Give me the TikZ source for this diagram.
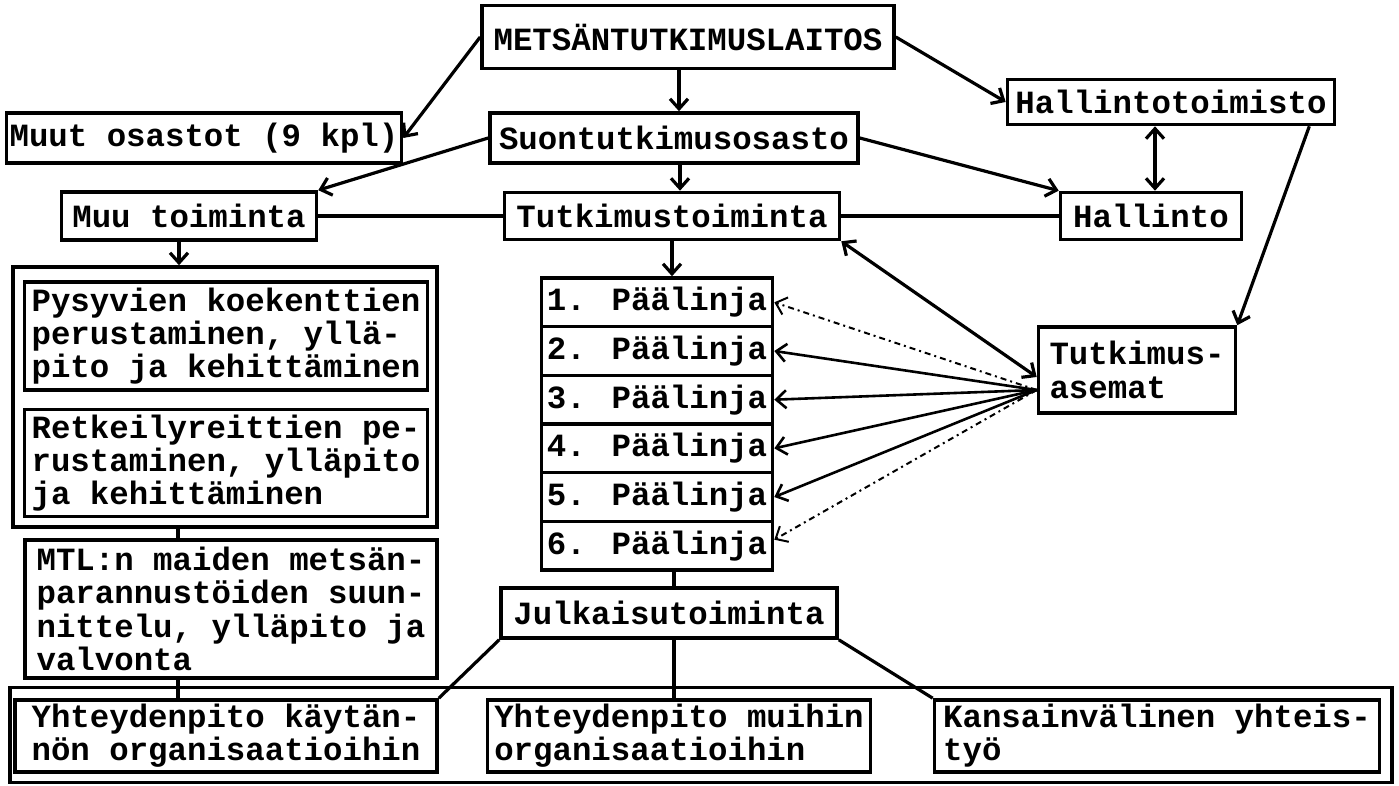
\documentclass[tikz,border=0pt]{standalone}
\usepackage{fontspec}
\setmainfont{Liberation Mono}
\usetikzlibrary{arrows.meta}

\tikzset{
	laatikko/.style={draw, line width=1.8pt, inner sep=0pt, align=left,
		font=\bfseries\fontsize{16.2}{16.6}\selectfont},
	kuori/.style={draw, line width=1.8pt, inner sep=0pt},
	nuoli/.style={line width=1.6pt, -{Straight Barb[length=5pt,width=9pt]}},
	kaksi/.style={line width=1.6pt, {Straight Barb[length=5pt,width=9pt]}-{Straight Barb[length=5pt,width=9pt]}},
	viiva/.style={line width=1.6pt},
	ohut/.style={line width=1.3pt, -{Straight Barb[length=5pt,width=9pt]}},
}

\begin{document}
\begin{tikzpicture}[x=0.5pt, y=-0.5pt]
			\useasboundingbox (0, 0) rectangle (1399, 786);
			% ylin taso
			\node[laatikko, minimum width=206pt, minimum height=31.5pt] (mets) at (688, 37) {METSÄNTUTKIMUSLAITOS};
			\node[laatikko, minimum width=197.5pt, minimum height=25pt] (muut) at (204, 138) {Muut osastot (9 kpl)};
			\node[laatikko, minimum width=184pt, minimum height=25pt] (suon) at (674, 138) {Suontutkimusosasto};
			\node[laatikko, minimum width=163.5pt, minimum height=22.5pt] (htoim) at (1171, 102) {Hallintotoimisto};
			\node[laatikko, minimum width=127.5pt, minimum height=24pt] (muu) at (189, 216) {Muu toiminta};
			\node[laatikko, minimum width=167.5pt, minimum height=23.5pt] (tutk) at (672, 216) {Tutkimustoiminta};
			\node[laatikko, minimum width=90.5pt, minimum height=23.5pt] (hall) at (1151, 216) {Hallinto};
			% muu toiminta
			\node[kuori, minimum width=212pt, minimum height=130pt] (ryhma) at (225, 397) {};
			\node[laatikko, minimum width=201.5pt, minimum height=54pt] (pysy) at (226, 336) {Pysyvien koekenttien\\perustaminen, yllä-\\pito ja kehittäminen};
			\node[laatikko, minimum width=201.5pt, minimum height=53.5pt] (retk) at (226, 463) {Retkeilyreittien pe-\\rustaminen, ylläpito\\ja kehittäminen};
			\node[laatikko, minimum width=206pt, minimum height=69pt] (mtlm) at (231, 609) {MTL:n maiden metsän-\\parannustöiden suun-\\nittelu, ylläpito ja\\valvonta};
			% päälinjat
			\foreach \i in {1,...,6}
				\node[laatikko, minimum width=115.5pt, minimum height=24.33pt] (p\i) at (657, 278 + 48.67*\i - 24.33) {\i. Päälinja};
			\node[laatikko, minimum width=98.5pt, minimum height=43pt] (asemat) at (1137, 370) {Tutkimus-\\asemat};
			\node[laatikko, minimum width=168pt, minimum height=25pt] (julk) at (669, 613) {Julkaisutoiminta};
			% yhteydet
			\node[kuori, minimum width=691pt, minimum height=47.5pt] (yhteys) at (701, 735) {};
			\node[laatikko, minimum width=211pt, minimum height=36pt] (yht1) at (226, 736) {Yhteydenpito käytän-\\nön organisaatioihin};
			\node[laatikko, minimum width=191.5pt, minimum height=36pt] (yht2) at (679, 736) {Yhteydenpito muihin\\organisaatioihin};
			\node[laatikko, minimum width=222.5pt, minimum height=36pt] (kans) at (1157, 736) {Kansainvälinen yhteis-\\työ};
			% nuolet
			\draw[nuoli] (mets.west) -- (muut.east);
			\draw[nuoli] ([xshift=-4.5pt]mets.south) -- ([xshift=2.5pt]suon.north);
			\draw[nuoli] (mets.east) -- (htoim.west);
			\draw[nuoli] (suon.west) -- (muu.north east);
			\draw[nuoli] ([xshift=3pt]suon.south) -- ([xshift=4pt]tutk.north);
			\draw[nuoli] (suon.east) -- (hall.north west);
			\draw[kaksi] ([xshift=2pt]hall.north |- htoim.south) -- ([xshift=2pt]hall.north);
			\draw[nuoli] ([xshift=-13.5pt]htoim.south east) -- (asemat.north east);
			\draw[viiva] (muu.east) -- (tutk.west);
			\draw[viiva] (tutk.east) -- (hall.west);
			\draw[kaksi] (tutk.south east) -- ([yshift=-3.5pt]asemat.west);
			\draw[nuoli] ([xshift=-5pt]muu.south) -- ([xshift=-5pt]muu.south |- ryhma.north);
			\draw[nuoli] (tutk.south) -- (tutk.south |- p1.north);
			\coordinate (fan) at ([yshift=-10pt]asemat.west);
			\foreach \i in {2,...,5}
				\draw[ohut] (fan) -- (p\i.east);
			\draw[ohut, line width=1pt, dash dot] (fan) -- (p1.east);
			\draw[ohut, line width=1pt, dash dot] (fan) -- ([yshift=3pt]p6.east);
			\draw[viiva] ([xshift=-23.5pt]ryhma.south) -- ([xshift=-23.5pt]ryhma.south |- mtlm.north);
			\draw[viiva] ([xshift=-26.5pt]mtlm.south) -- ([xshift=-26.5pt]mtlm.south |- yht1.north);
			\draw[viiva] ([xshift=8.5pt]p6.south) -- ([xshift=8.5pt]p6.south |- julk.north);
			\draw[viiva] (julk.south west) -- (yht1.north east);
			\draw[viiva] ([xshift=2.5pt]julk.south) -- ([xshift=-2.5pt]yht2.north);
			\draw[viiva] (julk.south east) -- (kans.north west);
\end{tikzpicture}
\end{document}
